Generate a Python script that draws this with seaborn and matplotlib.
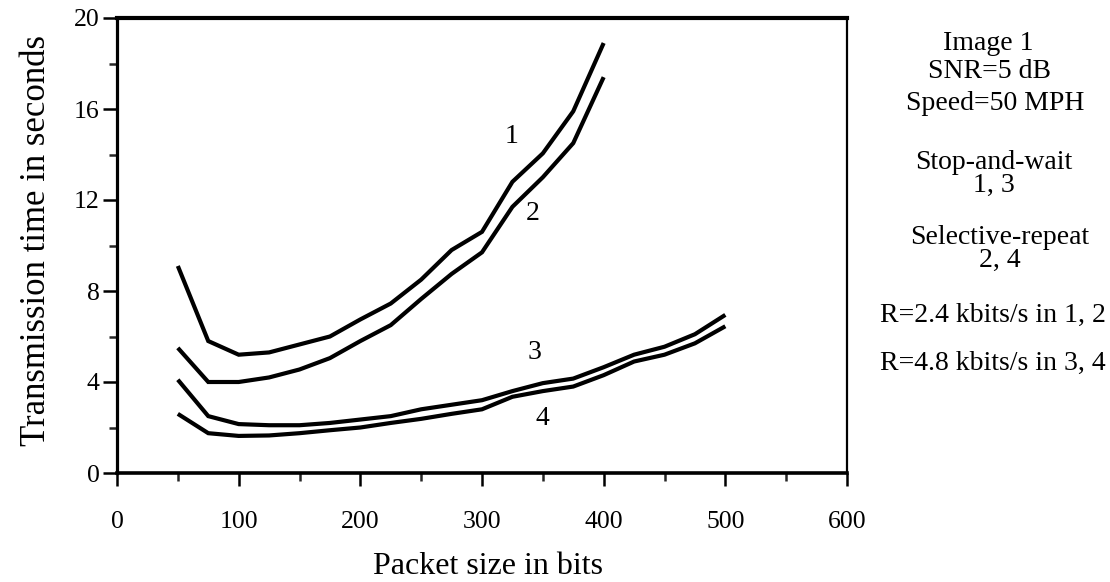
import numpy as np
import pandas as pd
import matplotlib
matplotlib.use("Agg")
import matplotlib.pyplot as plt
from matplotlib.ticker import MultipleLocator
import seaborn as sns

# Packet sizes (bits)
size_short = [50, 75, 100, 125, 150, 175, 200, 225, 250, 275, 300, 325, 350, 375, 400]
size_long = [50, 75, 100, 125, 150, 175, 200, 225, 250, 275, 300, 325, 350, 375, 400,
             425, 450, 475, 500]

# Transmission time (s)
curve1 = [9.1, 5.8, 5.2, 5.3, 5.65, 6.0, 6.75, 7.45, 8.5, 9.8, 10.6, 12.8, 14.05, 15.9, 18.9]
curve2 = [5.5, 4.0, 4.0, 4.2, 4.55, 5.05, 5.8, 6.5, 7.65, 8.75, 9.7, 11.7, 13.0, 14.5, 17.4]
curve3 = [4.1, 2.5, 2.15, 2.1, 2.1, 2.2, 2.35, 2.5, 2.8, 3.0, 3.2, 3.6, 3.95, 4.15, 4.65,
          5.2, 5.55, 6.1, 6.95]
curve4 = [2.6, 1.75, 1.63, 1.65, 1.75, 1.88, 2.0, 2.2, 2.38, 2.6, 2.8, 3.35, 3.6, 3.8, 4.3,
          4.9, 5.2, 5.7, 6.45]

curve_ids = ["1", "2", "3", "4"]
label_pos_x = [324, 342, 343, 350]
label_pos_y = [14.8, 11.4, 5.3, 2.4]

notes = ["Image 1", "SNR=5 dB", "Speed=50 MPH", "Stop-and-wait\n1, 3",
         "Selective-repeat\n2, 4", "R=2.4 kbits/s in 1, 2", "R=4.8 kbits/s in 3, 4"]

frames = []
for cid, xs, ys in zip(curve_ids, [size_short, size_short, size_long, size_long],
                       [curve1, curve2, curve3, curve4]):
    frames.append(pd.DataFrame({"size": xs, "time": ys, "curve": cid}))
data = pd.concat(frames, ignore_index=True)

sns.set_theme(style="ticks")
plt.rcParams["font.family"] = ["Liberation Serif", "DejaVu Serif"]

W, H = 1110, 582
fig = plt.figure(figsize=(W / 100, H / 100), dpi=100)
ax = fig.add_axes([117 / W, 1 - 473 / H, (847 - 117) / W, (473 - 18) / H])

sns.lineplot(data=data, x="size", y="time", hue="curve", units="curve", estimator=None,
             palette=["black"] * 4, linewidth=3.0, legend=False, ax=ax,
             solid_joinstyle="miter", solid_capstyle="butt")

ax.set_xlim(0, 600)
ax.set_ylim(0, 20)
ax.xaxis.set_major_locator(MultipleLocator(100))
ax.xaxis.set_minor_locator(MultipleLocator(50))
ax.yaxis.set_major_locator(MultipleLocator(4))
ax.yaxis.set_minor_locator(MultipleLocator(2))

for side in ["left", "bottom", "top", "right"]:
    ax.spines[side].set_visible(True)
    ax.spines[side].set_color("black")
ax.spines["left"].set_linewidth(2.3)
ax.spines["bottom"].set_linewidth(2.6)
ax.spines["top"].set_linewidth(3.0)
ax.spines["right"].set_linewidth(1.6)

ax.tick_params(axis="x", which="major", direction="out", length=9.5, width=1.8,
               labelsize=18.5, pad=18, colors="black")
ax.tick_params(axis="x", which="minor", direction="out", length=6, width=1.8)
ax.tick_params(axis="y", which="major", direction="out", length=10, width=1.8,
               labelsize=18.5, pad=2.5, colors="black")
ax.tick_params(axis="y", which="minor", direction="out", length=6, width=1.8)

ax.set_xlabel("Packet size in bits", fontsize=23, color="black")
ax.xaxis.set_label_coords((488 - 117) / 730, -0.174)
ax.set_ylabel("Transmission time in seconds", fontsize=25, color="black")
ax.yaxis.set_label_coords(-0.087, 0.512)

for cid, lx, ly in zip(curve_ids, label_pos_x, label_pos_y):
    ax.text(lx, ly, cid, fontsize=20, ha="center", va="center", color="black")

note_x = [988, 990, 995, 994, 1000, 993, 993]
note_y = [43, 72, 103, 174, 249, 315, 363]
for txt, nx, ny in zip(notes, note_x, note_y):
    fig.text(nx / W, 1 - ny / H, txt, fontsize=20, ha="center", va="center",
             multialignment="center", linespacing=0.92, color="black")

fig.savefig("out.png", dpi=100, facecolor="white")
